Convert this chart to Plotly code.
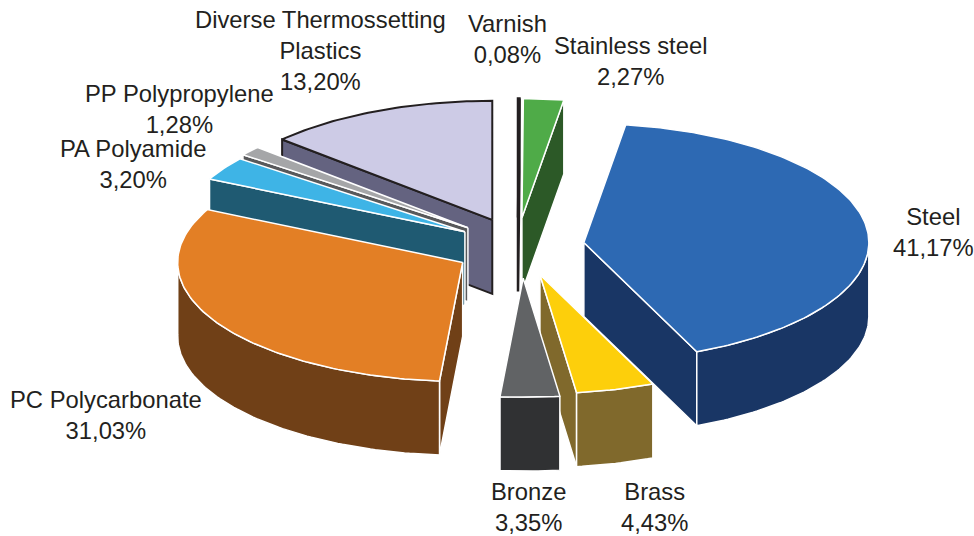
import numpy as np
import plotly.graph_objects as go

categories = ["Varnish", "Stainless steel", "Steel", "Brass", "Bronze", "PC Polycarbonate",
              "PA Polyamide", "PP Polypropylene", "Diverse Thermossetting<br>Plastics"]
values = [0.08, 2.27, 41.17, 4.43, 3.35, 31.03, 3.20, 1.28, 13.20]

# explosion of each slice, as a fraction of the radius (horizontal / vertical)
pull_x = [0.0, 0.18, 0.233, 0.29, 0.76, 0.223, 0.22, 0.23, 0.224]
pull_y = [0.24, 0.238, 0.226, 0.25, 0.27, 0.28, 0.224, 0.237, 0.24]

top_colors = ["#231f20", "#4fab48", "#2d69b3", "#fdcf0b", "#616365", "#e37f25", "#3eb4e6", "#a5a6a8", "#cdcbe6"]
side_colors = ["#231f20", "#2c5927", "#193665", "#80692c", "#303133", "#704017", "#1f5a72", "#58595b", "#646380"]
edge_colors = ["#231f20", "white", "white", "white", "white", "white", "white", "white", "#231f20"]

label_x = [507, 630, 933, 654, 528, 106, 133, 179, 320]
label_y = [39, 61, 232, 507, 507, 415, 164, 109, 50]

CX, CY, RX, RY, DEPTH = 518, 246, 285, 119, 74
FONT = dict(family="Liberation Sans, Arial, sans-serif", size=23.8, color="#231f20")

total = sum(values)
fractions = np.array(values) / total
ends = np.cumsum(fractions) * 2 * np.pi
starts = ends - fractions * 2 * np.pi
mids = (starts + ends) / 2

fig = go.Figure()


def poly(xs, ys, fill, edge, width=1.5):
    fig.add_trace(go.Scatter(x=list(xs), y=list(ys), mode="lines", fill="toself", fillcolor=fill,
                             line=dict(color=edge, width=width), hoverinfo="skip", showlegend=False))


for i in np.argsort(-np.cos(mids)):
    ax = CX + pull_x[i] * RX * np.sin(mids[i])
    ay = CY - pull_y[i] * RY * np.cos(mids[i])
    n = max(3, int(np.degrees(ends[i] - starts[i])))
    th = np.linspace(starts[i], ends[i], n)
    rim_x = ax + RX * np.sin(th)
    rim_y = ay - RY * np.cos(th)
    w = 2.5 if values[i] < 0.5 else (2 if edge_colors[i] != "white" else 1.5)

    # radial cut faces: only those facing the viewer
    for k, sign in ((0, -1), (-1, 1)):
        rx, ry = rim_x[k], rim_y[k]
        # outward normal of the cut edge, in screen coordinates (y down)
        dx, dy = rx - ax, ry - ay
        nx, ny = (-dy, dx) if sign > 0 else (dy, -dx)
        if ny > 0:
            poly([ax, rx, rx, ax, ax], [ay, ry, ry + DEPTH, ay + DEPTH, ay],
                 side_colors[i], edge_colors[i], w)

    # outer wall: the lower half of the rim
    mask = np.cos(th) < 0.02
    if mask.sum() >= 2:
        wx, wy = rim_x[mask], rim_y[mask]
        poly(np.r_[wx, wx[::-1], wx[0]], np.r_[wy, wy[::-1] + DEPTH, wy[0]],
             side_colors[i], edge_colors[i], w)

    # top face
    poly(np.r_[ax, rim_x, ax], np.r_[ay, rim_y, ay], top_colors[i], edge_colors[i], w)

for c, v, lx, ly in zip(categories, values, label_x, label_y):
    fig.add_annotation(x=lx, y=ly, text=f"{c}<br>{v:.2f}%".replace(".", ","), showarrow=False,
                       font=FONT, xanchor="center", yanchor="middle", align="center")

fig.update_layout(width=974, height=536, margin=dict(l=0, r=0, t=0, b=0),
                  paper_bgcolor="white", plot_bgcolor="white", showlegend=False,
                  xaxis=dict(range=[0, 974], visible=False, fixedrange=True),
                  yaxis=dict(range=[536, 0], visible=False, fixedrange=True))
fig.write_html("out.html", config={"displayModeBar": False},
               post_script="document.body.style.margin='0';document.body.style.overflow='hidden';")
